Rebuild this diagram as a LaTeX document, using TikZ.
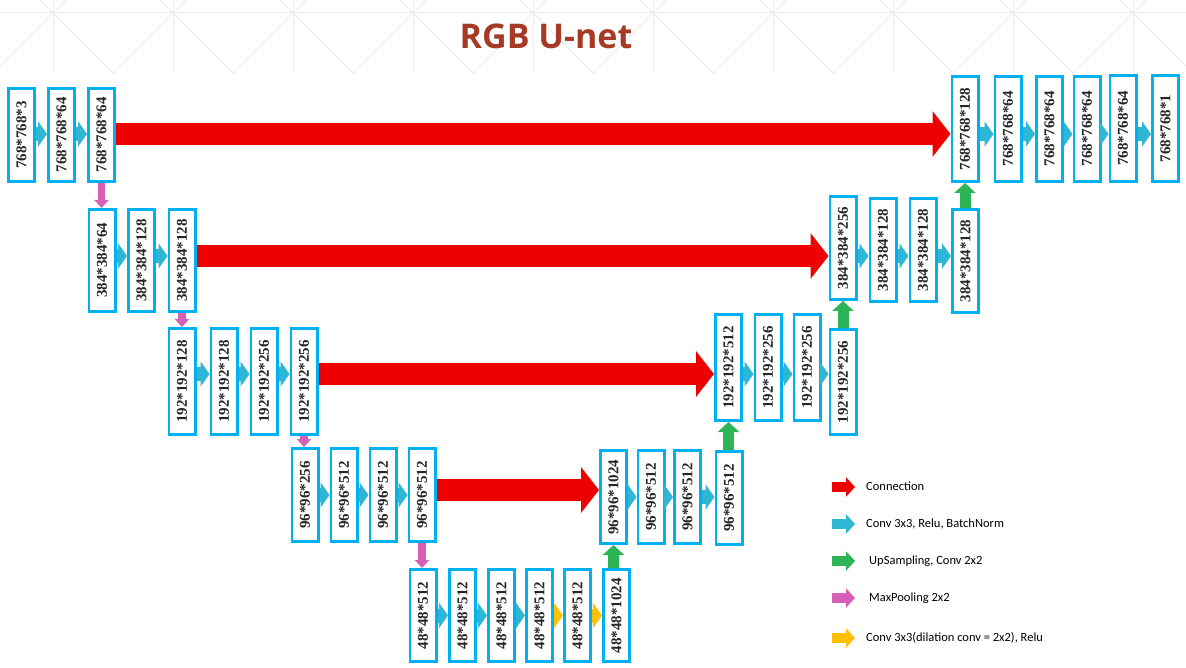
\documentclass[tikz,border=0pt]{standalone}
\usepackage{fontspec}
\setmainfont{Liberation Serif}
\newfontfamily\titlefont{Open Sans}
\newfontfamily\legendfont{Carlito}
\usetikzlibrary{arrows.meta}

\definecolor{boxblue}{RGB}{0,176,240}
\definecolor{labelgray}{RGB}{38,38,38}
\definecolor{connred}{RGB}{238,0,0}
\definecolor{convcyan}{RGB}{46,182,212}
\definecolor{upgreen}{RGB}{44,180,86}
\definecolor{poolpink}{RGB}{214,96,184}
\definecolor{dilyellow}{RGB}{255,192,0}
\definecolor{titlered}{RGB}{166,58,36}
\definecolor{bggray}{RGB}{236,236,236}

\tikzset{
  blk/.style={rectangle, draw=boxblue, line width=2.6pt, fill=white, minimum width=26.4pt, inner sep=0pt},
  lbl/.style={rotate=90, text=labelgray, font=\bfseries\fontsize{15}{17}\selectfont},
  conn/.style={draw=connred, line width=22pt, -{Triangle[width=45pt,length=18pt]}},
  conv/.style={draw=convcyan, line width=14pt, -{Triangle[width=25pt,length=9pt]}},
  dilconv/.style={conv, draw=dilyellow},
  upconv/.style={draw=upgreen, line width=11pt, -{Triangle[width=21pt,length=10pt]}},
  pool/.style={draw=poolpink, line width=7.5pt, -{Triangle[width=14pt,length=8pt]}},
  legarrow/.style={line width=10pt, -{Triangle[width=19pt,length=9pt]}},
  legtext/.style={anchor=west, inner sep=0pt, text height=9pt, text depth=3pt, font=\legendfont\fontsize{12.5}{14}\selectfont},
  bgline/.style={draw=bggray, line width=1pt}
}

\begin{document}
\begin{tikzpicture}[x=1pt, y=-1pt]

\useasboundingbox (0,0) rectangle (1186,668);
\fill [white] (0,0) rectangle (1186,668);

% background pattern
\draw [bgline] (0,13) -- (1186,13);
\foreach \x in {-67,53,...,1133} {
  \draw [bgline] (\x,0) -- (\x,73);
  \draw [bgline] (\x-13,0) -- (\x+60,73) -- (\x+133,0);
}

\draw (546,49) node (title) [anchor=base, text=titlered, font=\titlefont\bfseries\fontsize{34}{40}\selectfont] {RGB U-net};

% encoder, 768
\draw (21.5,135) node (a1) [blk, minimum height=93.4pt] {};
\draw (a1) node [lbl] {768*768*3};
\draw (61.5,135) node (a2) [blk, minimum height=93.4pt] {};
\draw (a2) node [lbl] {768*768*64};
\draw (101.5,135) node (a3) [blk, minimum height=93.4pt] {};
\draw (a3) node [lbl] {768*768*64};

% encoder, 384
\draw (102,260.5) node (b1) [blk, minimum height=102.4pt] {};
\draw (b1) node [lbl] {384*384*64};
\draw (141.5,260.5) node (b2) [blk, minimum height=102.4pt] {};
\draw (b2) node [lbl] {384*384*128};
\draw (182,260.5) node (b3) [blk, minimum height=102.4pt] {};
\draw (b3) node [lbl] {384*384*128};

% encoder, 192
\draw (182,381.5) node (c1) [blk, minimum height=106.4pt] {};
\draw (c1) node [lbl] {192*192*128};
\draw (224,381.5) node (c2) [blk, minimum height=106.4pt] {};
\draw (c2) node [lbl] {192*192*128};
\draw (264,381.5) node (c3) [blk, minimum height=106.4pt] {};
\draw (c3) node [lbl] {192*192*256};
\draw (304,381.5) node (c4) [blk, minimum height=106.4pt] {};
\draw (c4) node [lbl] {192*192*256};

% encoder, 96
\draw (305,495) node (d1) [blk, minimum height=93.4pt] {};
\draw (d1) node [lbl] {96*96*256};
\draw (344,495) node (d2) [blk, minimum height=93.4pt] {};
\draw (d2) node [lbl] {96*96*512};
\draw (383,495) node (d3) [blk, minimum height=93.4pt] {};
\draw (d3) node [lbl] {96*96*512};
\draw (422,495) node (d4) [blk, minimum height=93.4pt] {};
\draw (d4) node [lbl] {96*96*512};

% bottom, 48
\draw (423,615.5) node (e1) [blk, minimum height=92.4pt] {};
\draw (e1) node [lbl] {48*48*512};
\draw (462.5,615.5) node (e2) [blk, minimum height=92.4pt] {};
\draw (e2) node [lbl] {48*48*512};
\draw (501.5,615.5) node (e3) [blk, minimum height=92.4pt] {};
\draw (e3) node [lbl] {48*48*512};
\draw (539.5,615.5) node (e4) [blk, minimum height=92.4pt] {};
\draw (e4) node [lbl] {48*48*512};
\draw (577.5,615.5) node (e5) [blk, minimum height=92.4pt] {};
\draw (e5) node [lbl] {48*48*512};
\draw (616.5,615.5) node (e6) [blk, minimum height=92.4pt] {};
\draw (e6) node [lbl] {48*48*1024};

% decoder, 96
\draw (613.5,497) node (f1) [blk, minimum height=93.4pt] {};
\draw (f1) node [lbl] {96*96*1024};
\draw (651,497) node (f2) [blk, minimum height=93.4pt] {};
\draw (f2) node [lbl] {96*96*512};
\draw (687.5,497) node (f3) [blk, minimum height=93.4pt] {};
\draw (f3) node [lbl] {96*96*512};
\draw (729,498) node (f4) [blk, minimum height=93.4pt] {};
\draw (f4) node [lbl] {96*96*512};

% decoder, 192
\draw (728.5,367.5) node (g1) [blk, minimum height=106.4pt] {};
\draw (g1) node [lbl] {192*192*512};
\draw (768,367.5) node (g2) [blk, minimum height=106.4pt] {};
\draw (g2) node [lbl] {192*192*256};
\draw (807,367.5) node (g3) [blk, minimum height=106.4pt] {};
\draw (g3) node [lbl] {192*192*256};
\draw (843,382) node (g4) [blk, minimum height=105.4pt] {};
\draw (g4) node [lbl] {192*192*256};

% decoder, 384
\draw (843,248) node (h1) [blk, minimum height=103.4pt] {};
\draw (h1) node [lbl] {384*384*256};
\draw (883,250) node (h2) [blk, minimum height=103.4pt] {};
\draw (h2) node [lbl] {384*384*128};
\draw (923,250) node (h3) [blk, minimum height=103.4pt] {};
\draw (h3) node [lbl] {384*384*128};
\draw (965.5,261) node (h4) [blk, minimum height=103.4pt] {};
\draw (h4) node [lbl] {384*384*128};

% decoder, 768
\draw (965,129) node (i1) [blk, minimum height=105.4pt] {};
\draw (i1) node [lbl] {768*768*128};
\draw (1008,129) node (i2) [blk, minimum height=105.4pt] {};
\draw (i2) node [lbl] {768*768*64};
\draw (1049.5,129) node (i3) [blk, minimum height=105.4pt] {};
\draw (i3) node [lbl] {768*768*64};
\draw (1087,129) node (i4) [blk, minimum height=105.4pt] {};
\draw (i4) node [lbl] {768*768*64};
\draw (1123,128.5) node (i5) [blk, minimum height=106.4pt] {};
\draw (i5) node [lbl] {768*768*64};
\draw (1165.5,128.5) node (i6) [blk, minimum height=106.4pt] {};
\draw (i6) node [lbl] {768*768*1};

% rows of the arrows
\coordinate (hla) at (0,134);
\coordinate (hlb) at (0,256);
\coordinate (hlc) at (0,374);
\coordinate (hld) at (0,490);

% connections
\draw [conn] (a3.east |- hla) -- (i1.west |- hla);
\draw [conn] (b3.east |- hlb) -- (h1.west |- hlb);
\draw [conn] (c4.east |- hlc) -- (g1.west |- hlc);
\draw [conn] (d4.east |- hld) -- (f1.west |- hld);

% conv 3x3
\draw [conv] (a1.east |- hla) -- (a2.west |- hla);
\draw [conv] (a2.east |- hla) -- (a3.west |- hla);
\draw [conv] (b1.east |- hlb) -- (b2.west |- hlb);
\draw [conv] (b2.east |- hlb) -- (b3.west |- hlb);
\draw [conv] (c1.east |- hlc) -- (c2.west |- hlc);
\draw [conv] (c2.east |- hlc) -- (c3.west |- hlc);
\draw [conv] (c3.east |- hlc) -- (c4.west |- hlc);
\draw [conv] (d1.east) -- (d2.west);
\draw [conv] (d2.east) -- (d3.west);
\draw [conv] (d3.east) -- (d4.west);
\draw [conv] (e1.east) -- (e2.west);
\draw [conv] (e2.east) -- (e3.west);
\draw [conv] (e3.east) -- (e4.west);
\draw [dilconv] (e4.east) -- (e5.west);
\draw [dilconv] (e5.east) -- (e6.west);
\draw [conv] (f1.east) -- (f2.west);
\draw [conv] (f2.east) -- (f3.west);
\draw [conv] (f3.east) -- (f3.east -| f4.west);
\draw [conv] (g1.east |- hlc) -- (g2.west |- hlc);
\draw [conv] (g2.east |- hlc) -- (g3.west |- hlc);
\draw [conv] (g3.east |- hlc) -- (g4.west |- hlc);
\draw [conv] (h1.east |- hlb) -- (h2.west |- hlb);
\draw [conv] (h2.east |- hlb) -- (h3.west |- hlb);
\draw [conv] (h3.east |- hlb) -- (h4.west |- hlb);
\draw [conv] (i1.east |- hla) -- (i2.west |- hla);
\draw [conv] (i2.east |- hla) -- (i3.west |- hla);
\draw [conv] (i3.east |- hla) -- (i4.west |- hla);
\draw [conv] (i4.east |- hla) -- (i5.west |- hla);
\draw [conv] (i5.east |- hla) -- (i6.west |- hla);

% max pooling
\draw [pool] (a3.south) -- (a3.south |- b1.north);
\draw [pool] (b3.south) -- (b3.south |- c1.north);
\draw [pool] (c4.south) -- (c4.south |- d1.north);
\draw [pool] (d4.south) -- (d4.south |- e1.north);

% up sampling
\draw [upconv] (f1.south |- e6.north) -- (f1.south);
\draw [upconv] (g1.south |- f4.north) -- (g1.south);
\draw [upconv] (h1.south |- g4.north) -- (h1.south);
\draw [upconv] (i1.south |- h4.north) -- (i1.south);

% legend
\draw (866,487) node (lg1) [legtext] {Connection};
\draw (866,524) node (lg2) [legtext] {Conv 3x3, Relu, BatchNorm};
\draw (869,561) node (lg3) [legtext] {UpSampling, Conv 2x2};
\draw (869,598) node (lg4) [legtext] {MaxPooling 2x2};
\draw (866,638) node (lg5) [legtext] {Conv 3x3(dilation conv = 2x2), Relu};

\draw [legarrow, draw=connred] (lg1.west) ++(-34,0) -- ++(23,0);
\draw [legarrow, draw=convcyan] (lg2.west) ++(-34,0) -- ++(23,0);
\draw [legarrow, draw=upgreen] (lg3.west) ++(-37,0) -- ++(23,0);
\draw [legarrow, draw=poolpink] (lg4.west) ++(-37,0) -- ++(23,0);
\draw [legarrow, draw=dilyellow] (lg5.west) ++(-34,0) -- ++(23,0);

\end{tikzpicture}
\end{document}
